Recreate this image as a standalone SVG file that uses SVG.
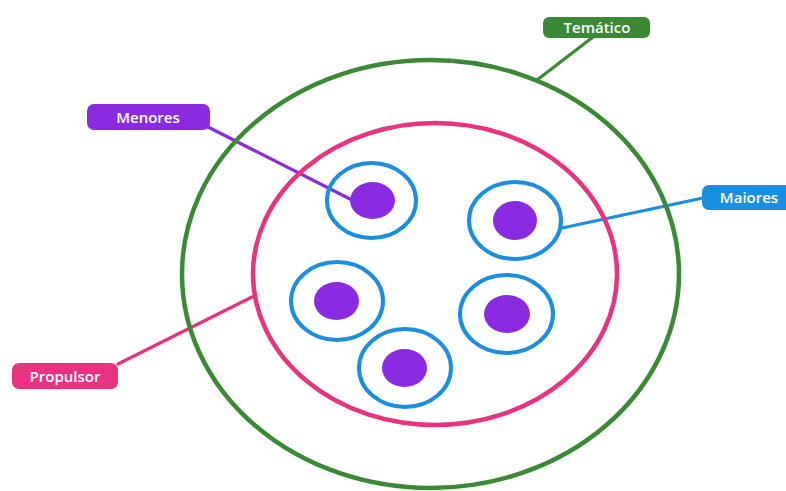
<svg xmlns="http://www.w3.org/2000/svg" width="786" height="491" viewBox="0 0 786 491">
<style>
.lbl{font-family:"Open Sans","Noto Sans","Liberation Sans",sans-serif;font-weight:600;font-size:15px;fill:#ffffff;text-anchor:middle}
.ring{fill:none;stroke:#1a8ee0;stroke-width:4}
.core{fill:#8a2be2}
.conn{fill:none;stroke-width:3.2;stroke-linecap:round}
</style>
<rect width="786" height="491" fill="#ffffff"/>
<g id="connectors">
<line class="conn" x1="593" y1="37" x2="537" y2="80" stroke="#3a8a35"/>
<line class="conn" x1="208" y1="127" x2="352" y2="200" stroke="#8a2be2"/>
<line class="conn" x1="118" y1="364" x2="252" y2="297" stroke="#e8337f"/>
<line class="conn" x1="703" y1="198" x2="562" y2="228" stroke="#1a8ee0"/>
</g>
<g id="tematico-ring"><ellipse cx="430.5" cy="274" rx="248.5" ry="214" fill="none" stroke="#3a8a35" stroke-width="4.5"/></g>
<g id="propulsor-ring"><ellipse cx="435" cy="274" rx="182" ry="151" fill="none" stroke="#e8337f" stroke-width="4.5"/></g>
<g id="cell1"><ellipse class="ring" cx="371.5" cy="200.5" rx="44.5" ry="37.5"/><ellipse class="core" cx="372.5" cy="200.5" rx="22.5" ry="18.5"/></g>
<g id="cell2"><ellipse class="ring" cx="515" cy="220.5" rx="46" ry="38.5"/><ellipse class="core" cx="515" cy="220.5" rx="22" ry="19.5"/></g>
<g id="cell3"><ellipse class="ring" cx="337" cy="301" rx="46" ry="39"/><ellipse class="core" cx="336.5" cy="301" rx="22.5" ry="19"/></g>
<g id="cell4"><ellipse class="ring" cx="506.5" cy="314" rx="46.5" ry="39"/><ellipse class="core" cx="507" cy="314" rx="23" ry="19"/></g>
<g id="cell5"><ellipse class="ring" cx="405" cy="368" rx="46" ry="39"/><ellipse class="core" cx="404.5" cy="368" rx="22.5" ry="19"/></g>
<g id="tematico"><rect x="543" y="17" width="107" height="21" rx="6" fill="#3a8a35"/><text class="lbl" x="597" y="32.5">Temático</text></g>
<g id="menores"><rect x="87" y="104" width="123" height="26" rx="7" fill="#8a2be2"/><text class="lbl" x="148" y="122.5">Menores</text></g>
<g id="propulsor"><rect x="12" y="363" width="106" height="26" rx="7" fill="#e8337f"/><text class="lbl" x="65" y="381.5">Propulsor</text></g>
<g id="maiores"><rect x="702" y="185" width="92" height="25" rx="7" fill="#1a8ee0"/><text class="lbl" x="749" y="202.5">Maiores</text></g>
</svg>
